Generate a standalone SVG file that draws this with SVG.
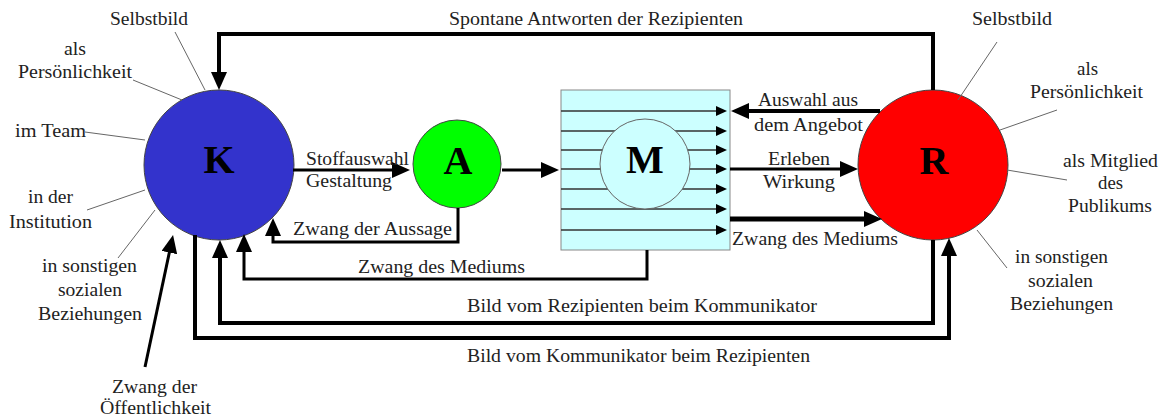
<svg xmlns="http://www.w3.org/2000/svg" width="1164" height="418" viewBox="0 0 1164 418">
<style>
.t{font-family:"Liberation Serif","Times New Roman",serif;font-size:19px;fill:#222}
.big{font-family:"Liberation Serif","Times New Roman",serif;font-size:40px;font-weight:bold;fill:#000;text-anchor:middle}
.c{fill:none;stroke:#000;stroke-linejoin:miter}
.lead{stroke:#666;stroke-width:1;fill:none}
.ml{stroke:#333;stroke-width:1.5;fill:none}
</style>
<defs>
<marker id="ah" markerUnits="userSpaceOnUse" markerWidth="18" markerHeight="16" refX="10" refY="8" orient="auto"><path d="M0,0 L18,8 L0,16 z" fill="#000"/></marker>
<marker id="ahs" markerUnits="userSpaceOnUse" markerWidth="11" markerHeight="10" refX="6" refY="5" orient="auto"><path d="M0,0 L11,5 L0,10 z" fill="#000"/></marker>
</defs>
<rect width="1164" height="418" fill="#fff"/>

<g id="node-K">
<circle cx="219" cy="165" r="75" fill="#3333cc" stroke="#444" stroke-width="1"/>
<text class="big" x="219" y="173">K</text>
</g>
<g id="node-A">
<circle cx="457" cy="164" r="44" fill="#00ff00" stroke="#444" stroke-width="1"/>
<text class="big" x="458" y="174">A</text>
</g>
<g id="node-M">
<rect x="561" y="90" width="169" height="160" fill="#ccffff" stroke="#888" stroke-width="1"/>
<path class="ml" marker-end="url(#ahs)" d="M561,111 H722"/>
<path class="ml" marker-end="url(#ahs)" d="M561,131 H722"/>
<path class="ml" marker-end="url(#ahs)" d="M561,150 H722"/>
<path class="ml" marker-end="url(#ahs)" d="M561,169 H722"/>
<path class="ml" marker-end="url(#ahs)" d="M561,189 H722"/>
<path class="ml" marker-end="url(#ahs)" d="M561,209 H722"/>
<path class="ml" marker-end="url(#ahs)" d="M561,230 H722"/>
<circle cx="645" cy="164" r="45" fill="#ccffff" stroke="#666" stroke-width="1"/>
<text class="big" x="645" y="173">M</text>
</g>
<g id="node-R">
<circle cx="933" cy="165" r="75" fill="#ff0000" stroke="#444" stroke-width="1"/>
<text class="big" x="934" y="174">R</text>
</g>

<g id="connectors">
<path class="c" stroke-width="4" marker-end="url(#ah)" d="M933,90 V34 H219 V82"/>
<path class="c" stroke-width="3" marker-end="url(#ah)" d="M293,170 H402"/>
<path class="c" stroke-width="3" marker-end="url(#ah)" d="M502,170 H551"/>
<path class="c" stroke-width="3" marker-end="url(#ah)" d="M458,208 V242 H273 V226"/>
<path class="c" stroke-width="3" marker-end="url(#ah)" d="M647,250 V279 H244 V242"/>
<path class="c" stroke-width="4" marker-end="url(#ah)" d="M933,240 V323 H220 V248"/>
<path class="c" stroke-width="4" marker-end="url(#ah)" d="M195,235 V338 H949 V246"/>
<path class="c" stroke-width="4" marker-end="url(#ah)" d="M880,111 H739"/>
<path class="c" stroke-width="3" marker-end="url(#ah)" d="M730,169 H850"/>
<path class="c" stroke-width="5" marker-end="url(#ah)" d="M730,219 H874"/>
<path class="c" stroke-width="3" marker-end="url(#ah)" d="M145,367 L171.4,242.8"/>
</g>

<g id="leaders">
<path class="lead" d="M175,32 L205,90"/>
<path class="lead" d="M133,80 L182,100"/>
<path class="lead" d="M85,132 L145,140"/>
<path class="lead" d="M87,210 L145,190"/>
<path class="lead" d="M118,258 L155,210"/>
<path class="lead" d="M997,42 L958,100"/>
<path class="lead" d="M1057,110 L1000,130"/>
<path class="lead" d="M1007,170 L1067,180"/>
<path class="lead" d="M977,230 L1007,268"/>
</g>

<g id="labels">
<text class="t" x="449" y="25" textLength="294" lengthAdjust="spacingAndGlyphs">Spontane Antworten der Rezipienten</text>
<text class="t" x="110" y="25" textLength="78" lengthAdjust="spacingAndGlyphs">Selbstbild</text>
<text class="t" x="64" y="55" textLength="22" lengthAdjust="spacingAndGlyphs">als</text>
<text class="t" x="18" y="78" textLength="114" lengthAdjust="spacingAndGlyphs">Persönlichkeit</text>
<text class="t" x="15" y="137" textLength="71" lengthAdjust="spacingAndGlyphs">im Team</text>
<text class="t" x="28" y="203" textLength="45" lengthAdjust="spacingAndGlyphs">in der</text>
<text class="t" x="9" y="228" textLength="83" lengthAdjust="spacingAndGlyphs">Institution</text>
<text class="t" x="42" y="272" textLength="95" lengthAdjust="spacingAndGlyphs">in sonstigen</text>
<text class="t" x="58" y="296" textLength="64" lengthAdjust="spacingAndGlyphs">sozialen</text>
<text class="t" x="38" y="320" textLength="104" lengthAdjust="spacingAndGlyphs">Beziehungen</text>
<text class="t" x="112" y="393" textLength="85" lengthAdjust="spacingAndGlyphs">Zwang der</text>
<text class="t" x="100" y="414" textLength="111" lengthAdjust="spacingAndGlyphs">Öffentlichkeit</text>
<text class="t" x="306" y="165" textLength="103" lengthAdjust="spacingAndGlyphs">Stoffauswahl</text>
<text class="t" x="306" y="187" textLength="86" lengthAdjust="spacingAndGlyphs">Gestaltung</text>
<text class="t" x="293" y="235" textLength="159" lengthAdjust="spacingAndGlyphs">Zwang der Aussage</text>
<text class="t" x="358" y="273" textLength="167" lengthAdjust="spacingAndGlyphs">Zwang des Mediums</text>
<text class="t" x="758" y="106" textLength="100" lengthAdjust="spacingAndGlyphs">Auswahl aus</text>
<text class="t" x="754" y="131" textLength="109" lengthAdjust="spacingAndGlyphs">dem Angebot</text>
<text class="t" x="768" y="165" textLength="62" lengthAdjust="spacingAndGlyphs">Erleben</text>
<text class="t" x="763" y="188" textLength="72" lengthAdjust="spacingAndGlyphs">Wirkung</text>
<text class="t" x="732" y="245" textLength="166" lengthAdjust="spacingAndGlyphs">Zwang des Mediums</text>
<text class="t" x="972" y="25" textLength="80" lengthAdjust="spacingAndGlyphs">Selbstbild</text>
<text class="t" x="1077" y="75" textLength="21" lengthAdjust="spacingAndGlyphs">als</text>
<text class="t" x="1030" y="98" textLength="113" lengthAdjust="spacingAndGlyphs">Persönlichkeit</text>
<text class="t" x="1063" y="167" textLength="95" lengthAdjust="spacingAndGlyphs">als Mitglied</text>
<text class="t" x="1098" y="189" textLength="25" lengthAdjust="spacingAndGlyphs">des</text>
<text class="t" x="1068" y="212" textLength="84" lengthAdjust="spacingAndGlyphs">Publikums</text>
<text class="t" x="1015" y="263" textLength="93" lengthAdjust="spacingAndGlyphs">in sonstigen</text>
<text class="t" x="1028" y="287" textLength="65" lengthAdjust="spacingAndGlyphs">sozialen</text>
<text class="t" x="1010" y="310" textLength="103" lengthAdjust="spacingAndGlyphs">Beziehungen</text>
<text class="t" x="467" y="312" textLength="350" lengthAdjust="spacingAndGlyphs">Bild vom Rezipienten beim Kommunikator</text>
<text class="t" x="467" y="362" textLength="343" lengthAdjust="spacingAndGlyphs">Bild vom Kommunikator beim Rezipienten</text>
</g>
</svg>
